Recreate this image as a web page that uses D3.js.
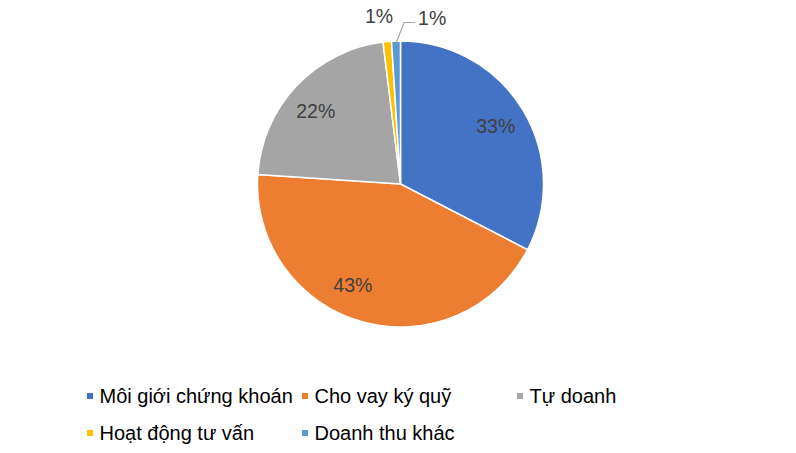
<!DOCTYPE html>
<head>
  <meta charset="utf-8">
  <script src="https://d3js.org/d3.v7.min.js"></script>
  <style>
    body { margin:0; background:#fff; }
    text { font-family: Arial, "Liberation Sans", sans-serif; }
  </style>
</head>
<body>
  <div id="chart"></div>
  <script>
    // data
    var categories = ["Môi giới chứng khoán", "Cho vay ký quỹ", "Tự doanh", "Hoạt động tư vấn", "Doanh thu khác"];
    var shares = [32.6, 43.45, 22.0, 0.95, 1.0];
    var labels = ["33%", "43%", "22%", "1%", "1%"];
    var colors = ["#4472C4", "#ED7D31", "#A5A5A5", "#FFC000", "#5B9BD5"];

    var width = 796, height = 453;
    var cx = 400.5, cy = 184, r = 143;

    var svg = d3.select("#chart").append("svg")
      .attr("width", width)
      .attr("height", height);

    var data = categories.map(function(c, i) {
      return {name: c, value: shares[i], label: labels[i], color: colors[i]};
    });

    var pie = d3.pie().sort(null).value(function(d) { return d.value; });
    var arc = d3.arc().innerRadius(0).outerRadius(r);
    var arcs = pie(data);

    var g = svg.append("g").attr("transform", "translate(" + cx + "," + cy + ")");

    g.selectAll("path.slice").data(arcs).enter()
      .append("path")
      .attr("class", "slice")
      .attr("d", arc)
      .style("fill", function(d) { return d.data.color; })
      .style("stroke", "#fff")
      .style("stroke-width", 1.5);

    function polar(angle, rad) {
      return [Math.sin(angle) * rad, -Math.cos(angle) * rad];
    }

    // inside labels (best fit nudges like Excel)
    var nudge = [0, 0.17, -0.05];
    var inside = arcs.filter(function(d) { return d.data.value >= 5; });
    g.selectAll("text.pct").data(inside).enter()
      .append("text")
      .attr("class", "pct")
      .attr("text-anchor", "middle")
      .attr("dy", "0.35em")
      .attr("x", function(d) { return polar((d.startAngle + d.endAngle) / 2 + nudge[d.index], r * 0.78)[0]; })
      .attr("y", function(d) { return polar((d.startAngle + d.endAngle) / 2 + nudge[d.index], r * 0.78)[1]; })
      .style("font-size", "19.5px")
      .style("fill", "#404040")
      .text(function(d) { return d.data.label; });

    // small slices: labels outside
    var small = arcs.filter(function(d) { return d.data.value < 5; });
    small.forEach(function(d, k) {
      var mid = (d.startAngle + d.endAngle) / 2;
      if (k === 0) {
        var p = polar(mid, r + 14);
        g.append("text")
          .attr("text-anchor", "middle")
          .attr("x", p[0] - 7)
          .attr("y", p[1] - 5)
          .style("font-size", "19.5px")
          .style("fill", "#404040")
          .text(d.data.label);
      } else {
        var p0 = polar(mid, r - 2);
        var p1 = [p0[0] + 8, -cy + 22.5];
        var p2 = [p1[0] + 11, p1[1]];
        g.append("polyline")
          .attr("points", [p0, p1, p2].map(function(p) { return p.join(","); }).join(" "))
          .style("fill", "none")
          .style("stroke", "#A6A6A6")
          .style("stroke-width", 1.2);
        g.append("text")
          .attr("x", p2[0] + 3)
          .attr("y", p2[1] + 2.5)
          .style("font-size", "19.5px")
          .style("fill", "#404040")
          .text(d.data.label);
      }
    });

    // legend
    var colX = [87, 302, 517], rowY = [396, 433];
    var leg = svg.selectAll("g.leg").data(data).enter()
      .append("g")
      .attr("class", "leg")
      .attr("transform", function(d, i) {
        return "translate(" + colX[i % 3] + "," + rowY[Math.floor(i / 3)] + ")";
      });
    leg.append("rect")
      .attr("x", 0).attr("y", -3)
      .attr("width", 6).attr("height", 6)
      .style("fill", function(d) { return d.color; });
    leg.append("text")
      .attr("x", 12.5)
      .attr("y", 7)
      .style("font-size", "20px")
      .style("fill", "#000")
      .text(function(d) { return d.name; });
  </script>
</body>
